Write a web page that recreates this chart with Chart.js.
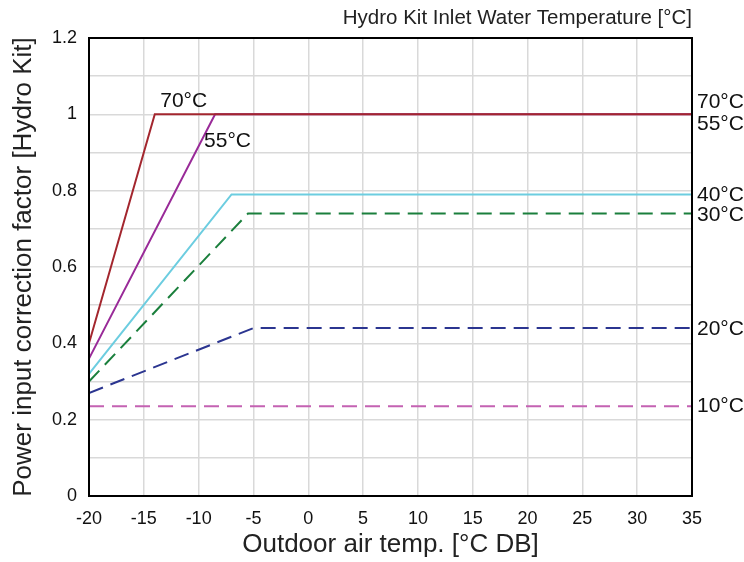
<!DOCTYPE html>
<html>
<head>
<meta charset="utf-8">
<script src="https://cdn.jsdelivr.net/npm/chart.js@4"></script>
<style>
  html, body { margin: 0; padding: 0; background: #fff; }
  #wrap { width: 744px; height: 562px; }
</style>
</head>
<body>
<div id="wrap"><canvas id="myChart" width="744" height="562"></canvas></div>
<script>
// inlet water temperature curves: outdoor temp (x) vs correction factor (y)
var names = ['70°C', '55°C', '40°C', '30°C', '20°C', '10°C']
var x70 = [-20, -14, 35],   y70 = [0.40, 1.00, 1.00]
var x55 = [-20, -8.5, 35],  y55 = [0.36, 1.00, 1.00]
var x40 = [-20, -7, 35],    y40 = [0.32, 0.79, 0.79]
var x30 = [-20, -5.5, 35],  y30 = [0.30, 0.74, 0.74]
var x20 = [-20, -5, 35],    y20 = [0.27, 0.44, 0.44]
var x10 = [-20, 35],        y10 = [0.235, 0.235]

var xTicks = [-20, -15, -10, -5, 0, 5, 10, 15, 20, 25, 30, 35]
var yTicks = [0, 0.2, 0.4, 0.6, 0.8, 1, 1.2]

var colors = ['#a3262e', '#992a98', '#6ccde0', '#1a7f3c', '#2b3590', '#c462b2']
var dashed = [false, false, false, true, true, true]

function pts(xs, ys) {
  return xs.map(function (x, i) { return { x: x, y: ys[i] } })
}
var series = [pts(x70, y70), pts(x55, y55), pts(x40, y40), pts(x30, y30), pts(x20, y20), pts(x10, y10)]

var font = "'Liberation Sans', Arial, Helvetica, sans-serif"

// right-hand labels: value on y, small vertical nudge so 70/55 and 40/30 don't overlap
var rightLabelY = [1.00, 1.00, 0.79, 0.74, 0.44, 0.235]
var rightNudge = [-12, 10, 1, 2, 1, 0]

var decor = {
  id: 'decor',
  afterDraw: function (chart) {
    var ctx = chart.ctx, a = chart.chartArea, ys = chart.scales.y, xs = chart.scales.x
    ctx.save()
    ctx.strokeStyle = '#000'
    ctx.lineWidth = 2
    ctx.strokeRect(a.left, a.top, a.right - a.left, a.bottom - a.top)

    ctx.fillStyle = '#222'
    ctx.font = '20.5px ' + font
    ctx.textAlign = 'right'
    ctx.textBaseline = 'middle'
    ctx.fillText('Hydro Kit Inlet Water Temperature [°C]', a.right, 18)

    ctx.fillStyle = '#111'
    ctx.font = '21px ' + font
    ctx.textAlign = 'left'
    for (var i = 0; i < names.length; i++) {
      ctx.fillText(names[i], a.right + 5, ys.getPixelForValue(rightLabelY[i]) + rightNudge[i])
    }
    // labels on the steep parts
    ctx.fillText(names[0], xs.getPixelForValue(-13.5), ys.getPixelForValue(1.0) - 13)
    ctx.fillText(names[1], xs.getPixelForValue(-9.5), ys.getPixelForValue(1.0) + 27)
    ctx.restore()
  }
}

var data = {
  datasets: series.map(function (s, i) {
    return {
      label: names[i],
      data: s,
      borderColor: colors[i],
      backgroundColor: colors[i],
      borderWidth: 2,
      borderDash: dashed[i] ? [15, 8] : [],
      pointRadius: 0,
      tension: 0,
      fill: false
    }
  })
}

const config = {
  type: 'line',
  data,
  options: {
    responsive: false,
    animation: false,
    layout: { padding: { left: 0, top: 38, right: 52, bottom: 0 } },
    plugins: { legend: { display: false }, tooltip: { enabled: false } },
    scales: {
      x: {
        type: 'linear',
        min: -20, max: 35,
        afterFit: function (s) { s.height = 66 },
        afterBuildTicks: function (s) { s.ticks = xTicks.map(function (v) { return { value: v } }) },
        grid: { color: '#d9d9d9', lineWidth: 1.5, drawTicks: false },
        border: { color: '#000', width: 2 },
        ticks: { padding: 12, color: '#111', font: { size: 18, family: font }, maxRotation: 0 },
        title: { display: true, text: 'Outdoor air temp. [°C DB]', color: '#222', font: { size: 26, family: font }, padding: { top: 0, bottom: 2 } }
      },
      y: {
        min: 0, max: 1.2,
        afterFit: function (s) { s.width = 89 },
        afterBuildTicks: function (s) {
          var t = []
          for (var i = 0; i <= 12; i++) t.push({ value: i / 10 })
          s.ticks = t
        },
        grid: { color: '#d9d9d9', lineWidth: 1.5, drawTicks: false },
        border: { color: '#000', width: 2 },
        ticks: {
          padding: 12, color: '#111', font: { size: 18, family: font },
          callback: function (v) {
            var hit = yTicks.filter(function (t) { return Math.abs(t - v) < 1e-6 })
            return hit.length ? String(hit[0]) : ''
          }
        },
        title: { display: true, text: 'Power input correction factor [Hydro Kit]', color: '#222', font: { size: 26, family: font }, padding: { top: 8, bottom: 0 } }
      }
    }
  },
  plugins: [decor]
};

var myChart = new Chart(document.getElementById('myChart'), config);
</script>
</body>
</html>
